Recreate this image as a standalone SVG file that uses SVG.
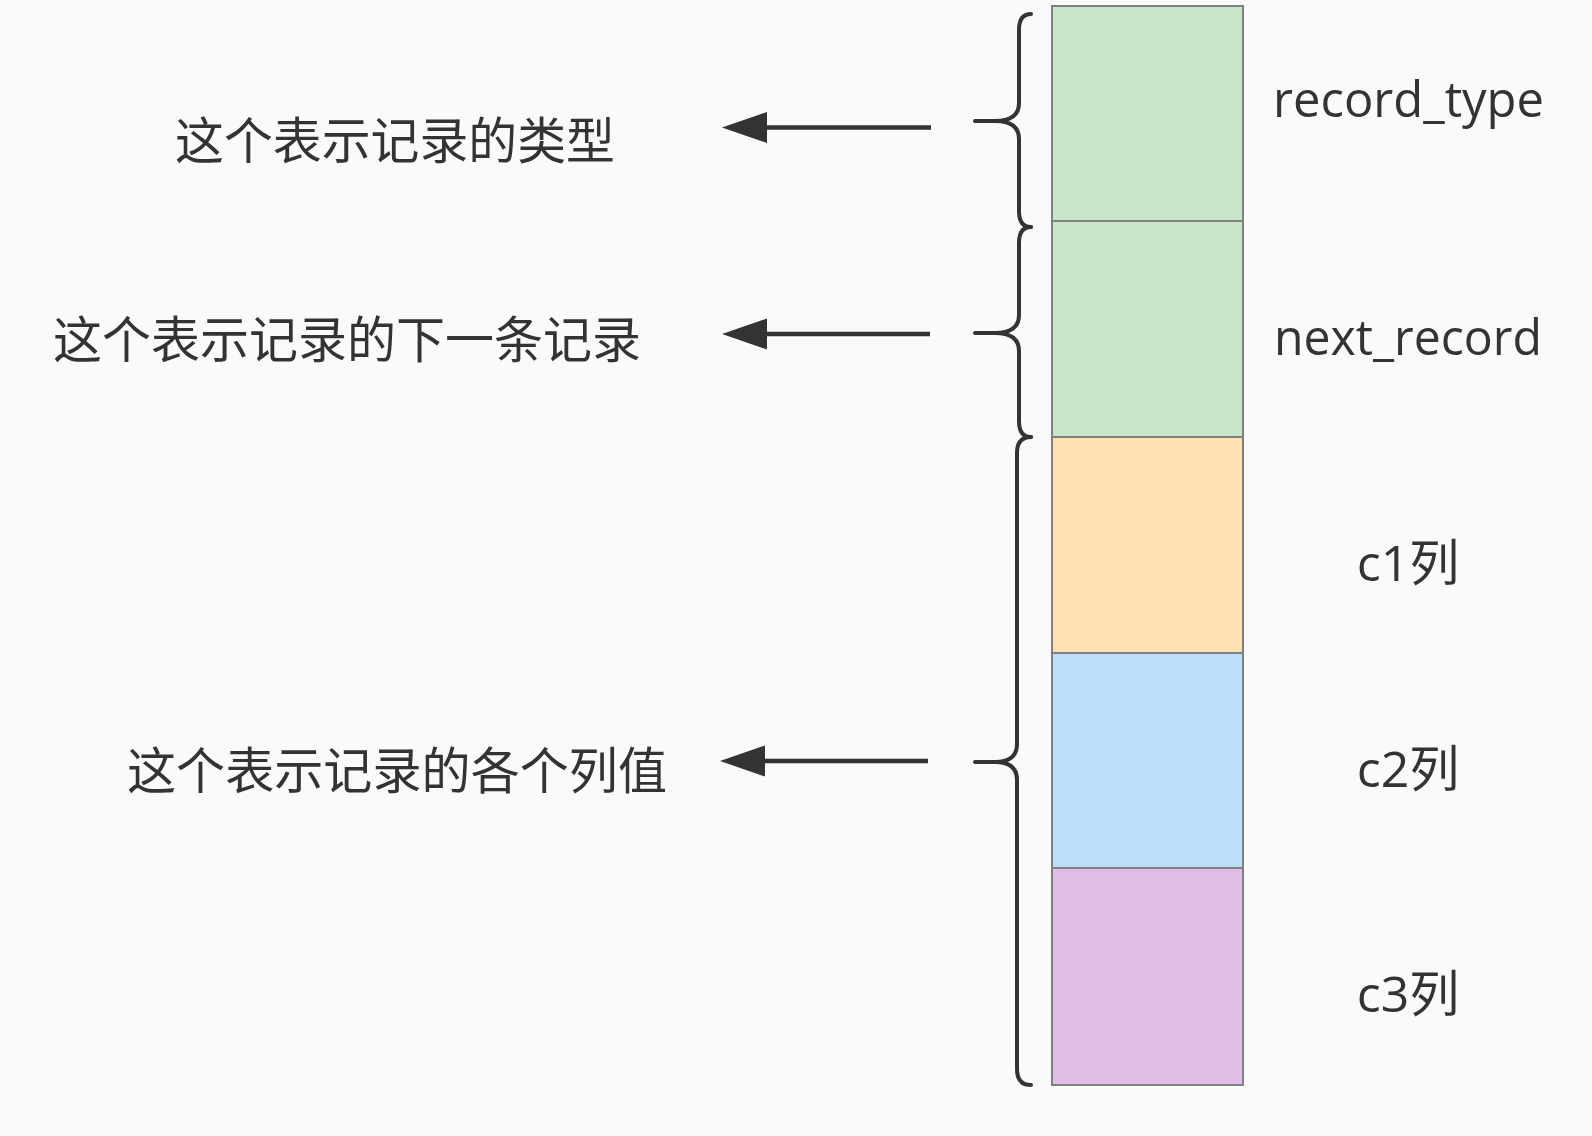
<svg xmlns="http://www.w3.org/2000/svg" width="1592" height="1136" viewBox="0 0 1592 1136">
<style>
.bg{fill:#fafafa}
.cell{stroke:#808080;stroke-width:2}
.g{fill:#c8e6c9}.o{fill:#ffe0b2}.b{fill:#bbdefb}.p{fill:#e1bee7}
.brace{fill:none;stroke:#333333;stroke-width:4;stroke-linecap:round;stroke-linejoin:round}
.conn{stroke:#333333;stroke-width:4.5;fill:none}
.cn{font-family:"Noto Sans CJK SC","Noto Sans",sans-serif;font-size:50px;fill:#333333}
.lt{font-family:"Open Sans","Noto Sans CJK SC",sans-serif;font-size:50px;fill:#333333}
</style>
<defs>
<marker id="ah" markerUnits="userSpaceOnUse" markerWidth="50" markerHeight="34" refX="0" refY="15" orient="auto-start-reverse" viewBox="0 0 45 30">
<path d="M0,15 L45,0 L45,30 Z" fill="#333333"/>
</marker>
</defs>
<rect class="bg" x="0" y="0" width="1592" height="1136"/>
<g id="record_type">
<rect class="cell g" x="1052" y="6" width="191" height="215"/>
<text class="lt" x="1273" y="117" textLength="271" lengthAdjust="spacingAndGlyphs">record_type</text>
</g>
<g id="next_record">
<rect class="cell g" x="1052" y="221" width="191" height="216"/>
<text class="lt" x="1274" y="355" textLength="268" lengthAdjust="spacingAndGlyphs">next_record</text>
</g>
<g id="c1">
<rect class="cell o" x="1052" y="437" width="191" height="216"/>
<text class="lt" x="1408" y="581" text-anchor="middle">c1列</text>
</g>
<g id="c2">
<rect class="cell b" x="1052" y="653" width="191" height="215"/>
<text class="lt" x="1408" y="787" text-anchor="middle">c2列</text>
</g>
<g id="c3">
<rect class="cell p" x="1052" y="868" width="191" height="217"/>
<text class="lt" x="1408" y="1012" text-anchor="middle">c3列</text>
</g>
<g id="brace-type">
<path class="brace" d="M1031,14 Q1019,14 1019,30 L1019,103 Q1019,121 995,121 L975,121 M995,121 Q1019,121 1019,139 L1019,211 Q1019,227 1031,227"/>
</g>
<g id="brace-next">
<path class="brace" d="M1031,227 Q1019,227 1019,243 L1019,315 Q1019,333 995,333 L975,333 M995,333 Q1019,333 1019,351 L1019,421 Q1019,437 1031,437"/>
</g>
<g id="brace-cols">
<path class="brace" d="M1031,437 Q1017,437 1017,453 L1017,744 Q1017,762 995,762 L975,762 M995,762 Q1017,762 1017,780 L1017,1069 Q1017,1085 1031,1085"/>
</g>
<g id="label-type">
<text class="cn" x="175" y="159" textLength="440" lengthAdjust="spacingAndGlyphs">这个表示记录的类型</text>
</g>
<g id="label-next">
<text class="cn" x="53" y="358" textLength="588" lengthAdjust="spacingAndGlyphs">这个表示记录的下一条记录</text>
</g>
<g id="label-cols">
<text class="cn" x="127" y="789" textLength="540" lengthAdjust="spacingAndGlyphs">这个表示记录的各个列值</text>
</g>
<g id="connectors">
<line class="conn" x1="931" y1="127.5" x2="760" y2="127.5"/>
<path d="M722,127.5 L767,112 L767,143 Z" fill="#333333"/>
<line class="conn" x1="930" y1="334" x2="760" y2="334"/>
<path d="M722,334 L767,318.5 L767,349.5 Z" fill="#333333"/>
<line class="conn" x1="928" y1="761" x2="758" y2="761"/>
<path d="M720,761 L765,745.5 L765,776.5 Z" fill="#333333"/>
</g>
</svg>
